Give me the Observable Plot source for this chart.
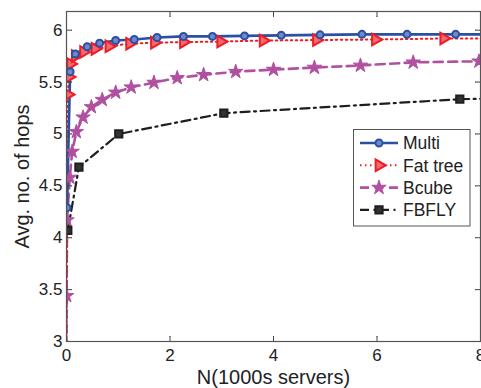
<!DOCTYPE html>
<html>
<head>
<meta charset="utf-8">
<script src="https://cdn.jsdelivr.net/npm/d3@7"></script>
<script src="https://cdn.jsdelivr.net/npm/@observablehq/plot@0.6"></script>
<style>
  html, body { margin: 0; padding: 0; background: #fff; }
  #wrap { position: relative; width: 481px; height: 388px; overflow: hidden; }
  g[aria-label="x-axis label"], g[aria-label="y-axis label"] { font-size: 20px; }
  #legend { position: absolute; left: 353px; top: 129px; }
</style>
</head>
<body>
<div id="wrap"></div>
<script>
// ---- data ----
const xTicks = [0, 2, 4, 6, 8];
const yTicks = [3, 3.5, 4, 4.5, 5, 5.5, 6];
const xLabel = "N(1000s servers)";
const yLabel = "Avg. no. of hops";
const seriesNames = ["Multi", "Fat tree", "Bcube", "FBFLY"];

const multiX = [0.01, 0.07, 0.17, 0.40, 0.64, 0.95, 1.31, 1.75, 2.26, 2.82, 3.44, 4.15, 4.90, 5.71, 6.58, 7.52];
const multiY = [4.29, 5.60, 5.77, 5.84, 5.875, 5.90, 5.91, 5.93, 5.94, 5.94, 5.945, 5.95, 5.955, 5.96, 5.96, 5.96];
const multiEnd = [8.6, 5.96];

const fatX = [0.025, 0.045, 0.077, 0.17, 0.33, 0.55, 0.82, 1.22, 1.70, 2.26, 2.98, 3.80, 4.83, 5.97, 7.29];
const fatY = [5.38, 5.55, 5.675, 5.75, 5.79, 5.82, 5.845, 5.87, 5.88, 5.885, 5.89, 5.90, 5.905, 5.91, 5.92];
const fatStart = [0.0, 2.8];
const fatEnd = [8.6, 5.92];

const bcubeX = [0.003, 0.01, 0.064, 0.11, 0.19, 0.32, 0.48, 0.69, 0.95, 1.25, 1.69, 2.14, 2.65, 3.27, 4.00, 4.79, 5.68, 6.70, 7.97];
const bcubeY = [3.44, 4.17, 4.58, 4.83, 5.02, 5.16, 5.26, 5.33, 5.40, 5.45, 5.495, 5.54, 5.57, 5.60, 5.62, 5.64, 5.66, 5.69, 5.70];
const bcubeStart = [0.0, 2.8];

const fbflyX = [0.025, 0.24, 1.01, 3.04, 7.60];
const fbflyY = [4.07, 4.68, 5.00, 5.20, 5.335];
const fbflyEnd = [8.6, 5.345];

// ---- styles ----
const C = { multi: "#2b4fa3", fat: "#ee1d25", bcube: "#b0509f", fbfly: "#1e1e1e" };

const pts = (xs, ys) => xs.map((x, i) => ({x, y: ys[i]}));
const withEnds = (xs, ys, start, end) => {
  const a = pts(xs, ys);
  if (start) a.unshift({x: start[0], y: start[1]});
  if (end) a.push({x: end[0], y: end[1]});
  return a;
};

const multiPts = pts(multiX, multiY), fatPts = pts(fatX, fatY), bcubePts = pts(bcubeX, bcubeY), fbflyPts = pts(fbflyX, fbflyY);

const styles = {
  multi: {line: {stroke: C.multi, strokeWidth: 2.6}, dot: {symbol: "circle", r: 3.5, stroke: C.multi, strokeWidth: 2, fill: "#7088c8"}},
  fat: {line: {stroke: C.fat, strokeWidth: 2, strokeDasharray: "1.5,3.5"}, dot: {symbol: "triangle", r: 4.3, rotate: 90, stroke: C.fat, strokeWidth: 2, fill: "#f56a70"}},
  bcube: {line: {stroke: C.bcube, strokeWidth: 2.6, strokeDasharray: "9,5.5"}, dot: {symbol: "star", r: 4.5, stroke: C.bcube, strokeWidth: 1, fill: C.bcube}},
  fbfly: {line: {stroke: C.fbfly, strokeWidth: 2.2, strokeDasharray: "9,4.5,2,4.5"}, dot: {symbol: "square", r: 4.1, stroke: C.fbfly, strokeWidth: 2, fill: "#333"}}
};

const tickMk = {stroke: "#444", strokeWidth: 1, r: 0, length: 5, anchor: "start"};
const fmt = d => `${d}`;

const chart = Plot.plot({
  width: 481, height: 388,
  marginLeft: 66, marginRight: 1, marginTop: 11, marginBottom: 47,
  x: {domain: [0, 8]},
  y: {domain: [3, 6.18]},
  style: {fontFamily: "'Liberation Sans', Arial, sans-serif", fontSize: "17px", color: "#222", background: "white", overflow: "visible"},
  marks: [
    Plot.axisX(xTicks, {tickSize: 0, tickPadding: 7, tickFormat: fmt, label: xLabel, labelArrow: false, labelAnchor: "center", labelOffset: 42}),
    Plot.axisY(yTicks, {tickSize: 0, tickPadding: 4, tickFormat: fmt, label: yLabel, labelArrow: false, labelAnchor: "center", labelOffset: 52}),
    Plot.line(withEnds(bcubeX, bcubeY, bcubeStart, null), {x: "x", y: "y", clip: true, ...styles.bcube.line}),
    Plot.line(withEnds(fbflyX, fbflyY, null, fbflyEnd), {x: "x", y: "y", clip: true, ...styles.fbfly.line}),
    Plot.line(withEnds(fatX, fatY, fatStart, fatEnd), {x: "x", y: "y", clip: true, ...styles.fat.line}),
    Plot.line(withEnds(multiX, multiY, null, multiEnd), {x: "x", y: "y", clip: true, ...styles.multi.line}),
    Plot.dot(bcubePts, {x: "x", y: "y", clip: true, ...styles.bcube.dot}),
    Plot.dot(fbflyPts, {x: "x", y: "y", clip: true, ...styles.fbfly.dot}),
    Plot.dot(fatPts, {x: "x", y: "y", clip: true, ...styles.fat.dot}),
    Plot.dot(multiPts, {x: "x", y: "y", clip: true, ...styles.multi.dot}),
    // inward tick marks on all four sides
    Plot.vectorX(xTicks, {x: d => d, frameAnchor: "bottom", rotate: 0, ...tickMk}),
    Plot.vectorX(xTicks, {x: d => d, frameAnchor: "top", rotate: 180, ...tickMk}),
    Plot.vectorY(yTicks, {y: d => d, frameAnchor: "left", rotate: 90, ...tickMk}),
    Plot.vectorY(yTicks, {y: d => d, frameAnchor: "right", rotate: -90, ...tickMk}),
    Plot.frame({stroke: "#555", strokeWidth: 1.2})
  ]
});
document.getElementById("wrap").appendChild(chart);

// ---- legend ----
const keys = ["multi", "fat", "bcube", "fbfly"];
const lg = d3.select("#wrap").append("svg").attr("id", "legend").attr("width", 118).attr("height", 98)
  .style("font-family", "'Liberation Sans', Arial, sans-serif");
lg.append("rect").attr("x", 0.5).attr("y", 0.5).attr("width", 116.5).attr("height", 96.5).attr("fill", "white").attr("stroke", "#555");
const sym = {circle: d3.symbolCircle, triangle: d3.symbolTriangle, star: d3.symbolStar, square: d3.symbolSquare};
keys.forEach((k, i) => {
  const s = styles[k], cy = 14 + i * 22.3;
  const g = lg.append("g");
  g.append("line").attr("x1", 7).attr("x2", 45).attr("y1", cy).attr("y2", cy)
    .attr("stroke", s.line.stroke).attr("stroke-width", s.line.strokeWidth).attr("stroke-dasharray", s.line.strokeDasharray || null);
  const d = s.dot;
  g.append("path").attr("d", d3.symbol(sym[d.symbol], d.r * d.r * Math.PI)())
    .attr("transform", `translate(26,${cy}) rotate(${d.rotate || 0})`)
    .attr("fill", d.fill).attr("stroke", d.stroke).attr("stroke-width", d.strokeWidth);
  g.append("text").attr("x", 50).attr("y", cy).attr("dy", "0.36em").attr("font-size", 17.5).attr("fill", "#222").text(seriesNames[i]);
});
</script>
</body>
</html>
